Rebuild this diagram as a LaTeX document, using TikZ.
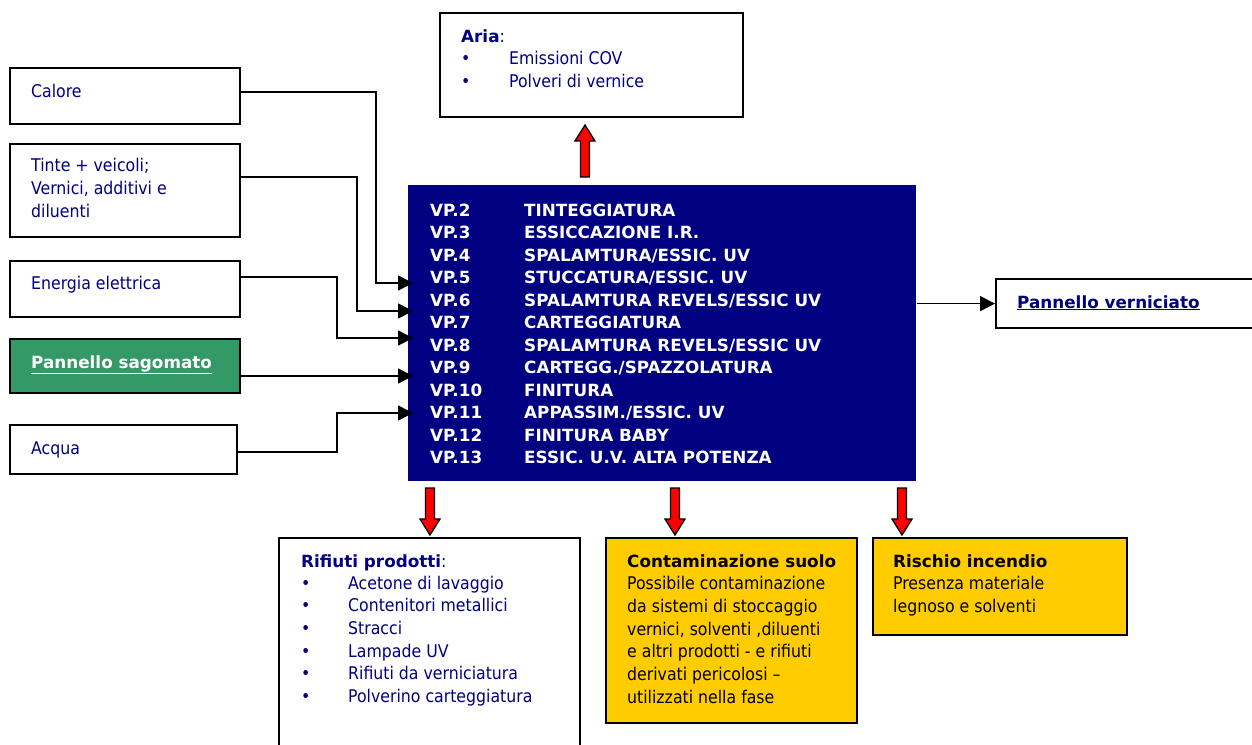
\documentclass[tikz,border=0pt]{standalone}
\usepackage{fontspec}
\setmainfont{DejaVu Sans Condensed}[BoldFont={DejaVu Sans Bold},BoldFeatures={Scale=0.96}]
\usetikzlibrary{arrows.meta}
\definecolor{navytext}{RGB}{0,0,128}
\definecolor{procblue}{RGB}{0,0,128}
\definecolor{leafgreen}{RGB}{51,153,102}
\definecolor{riskyellow}{RGB}{255,204,0}
\definecolor{arrowred}{RGB}{255,0,0}

\begin{document}
\begin{tikzpicture}[x=1pt,y=-1pt,
  box/.style={draw=black, line width=2.2pt, fill=white, inner sep=0pt, anchor=north west},
  % multi-line texts are placed by the baseline of their last line
  txt/.style={anchor=base west, inner sep=0pt, align=left, text=navytext,
              font=\fontsize{17.5}{22.7}\selectfont},
  vptxt/.style={txt, text=white, font=\fontsize{17.5}{22.5}\selectfont\bfseries},
  conn/.style={draw=black, line width=1.6pt, -{Triangle[length=15pt,width=15pt]}},
  pics/redarrow/.style={code={
    \draw[fill=arrowred, line width=1.3pt, line join=miter]
      (-4.5,0) -- (-4.5,#1-16) -- (-10,#1-16) -- (0,#1) -- (10,#1-16)
      -- (4.5,#1-16) -- (4.5,0) -- cycle;}}
]
\useasboundingbox (0,0) rectangle (1252,744);

% boxes
\node[box, minimum width=303pt, minimum height=104pt] (aria) at (439,12) {};
\node[box, minimum width=230pt, minimum height=56pt] (calore) at (9,67) {};
\node[box, minimum width=230pt, minimum height=93pt] (tinte) at (9,143) {};
\node[box, minimum width=230pt, minimum height=56pt] (energia) at (9,260) {};
\node[box, fill=leafgreen, minimum width=230pt, minimum height=54pt] (sagomato) at (9,338) {};
\node[box, minimum width=227pt, minimum height=49pt] (acqua) at (9,424) {};
\node[box, draw=none, fill=procblue, minimum width=508pt, minimum height=296pt] (vp) at (407,184) {};
\node[box, minimum width=263pt, minimum height=49pt] (verniciato) at (995,278) {};
\node[box, minimum width=301pt, minimum height=215pt] (rifiuti) at (278,537) {};
\node[box, fill=riskyellow, minimum width=251pt, minimum height=185pt] (contam) at (605,537) {};
\node[box, fill=riskyellow, minimum width=254pt, minimum height=97pt] (rischio) at (872,537) {};

% texts
\node[txt] (ariaT) at (461,42) {\textbf{Aria}:};
\node[txt] (ariaB) at (461,87) {•\\•};
\node[txt] (ariaL) at (509,87) {Emissioni COV\\Polveri di vernice};

\node[txt] (caloreT) at (31,97) {Calore};
\node[txt] (tinteT) at (31,217) {Tinte + veicoli;\\Vernici, additivi e\\diluenti};
\node[txt] (energiaT) at (31,289) {Energia elettrica};
\node[txt, text=white] (sagomatoT) at (31,368) {\textbf{\underline{Pannello sagomato}}};
\node[txt] (acquaT) at (31,454) {Acqua};

\node[vptxt] (vpcodes) at (430,463.5) {VP.2\\VP.3\\VP.4\\VP.5\\VP.6\\VP.7\\VP.8\\VP.9\\VP.10\\VP.11\\VP.12\\VP.13};
\node[vptxt] (vpnames) at (524,463.5) {TINTEGGIATURA\\ESSICCAZIONE I.R.\\SPALAMTURA/ESSIC. UV\\STUCCATURA/ESSIC. UV\\SPALAMTURA REVELS/ESSIC UV\\CARTEGGIATURA\\SPALAMTURA REVELS/ESSIC UV\\CARTEGG./SPAZZOLATURA\\FINITURA\\APPASSIM./ESSIC. UV\\FINITURA BABY\\ESSIC. U.V. ALTA POTENZA};

\node[txt] (verniciatoT) at (1017,308) {\textbf{\underline{Pannello verniciato}}};

\node[txt] (rifiutiT) at (301,567) {\textbf{Rifiuti prodotti}:};
\node[txt] (rifiutiB) at (301,702.5) {•\\•\\•\\•\\•\\•};
\node[txt] (rifiutiL) at (348,702.5) {Acetone di lavaggio\\Contenitori metallici\\Stracci\\Lampade UV\\Rifiuti da verniciatura\\Polverino carteggiatura};

\node[txt, text=black] (contamT) at (627,703.2) {\textbf{Contaminazione suolo}\\Possibile contaminazione\\da sistemi di stoccaggio\\vernici, solventi ,diluenti\\e altri prodotti - e rifiuti\\derivati pericolosi –\\utilizzati nella fase};
\node[txt, text=black] (rischioT) at (893,612.4) {\textbf{Rischio incendio}\\Presenza materiale\\legnoso e solventi};

% inputs to the process
\draw[conn] (calore.east |- 0,92) -| (376,283) -- ([xshift=6pt]vp.west |- 0,283);
\draw[conn] (tinte.east |- 0,177) -| (357,311) -- ([xshift=6pt]vp.west |- 0,311);
\draw[conn] (energia.east |- 0,277) -| (337,338) -- ([xshift=6pt]vp.west |- 0,338);
\draw[conn] (sagomato.east |- 0,376) -- ([xshift=6pt]vp.west |- 0,376);
\draw[conn] (acqua.east |- 0,452) -| (337,413) -- ([xshift=6pt]vp.west |- 0,413);

% output product
\draw[conn] (vp.east |- verniciato.west) -- (verniciato.west);

% emissions, wastes and risks
\pic[rotate=180] at (585,177) {redarrow=52};
\pic at (430,488) {redarrow=47};
\pic at (675,488) {redarrow=47};
\pic at (902,488) {redarrow=47};
\end{tikzpicture}
\end{document}
